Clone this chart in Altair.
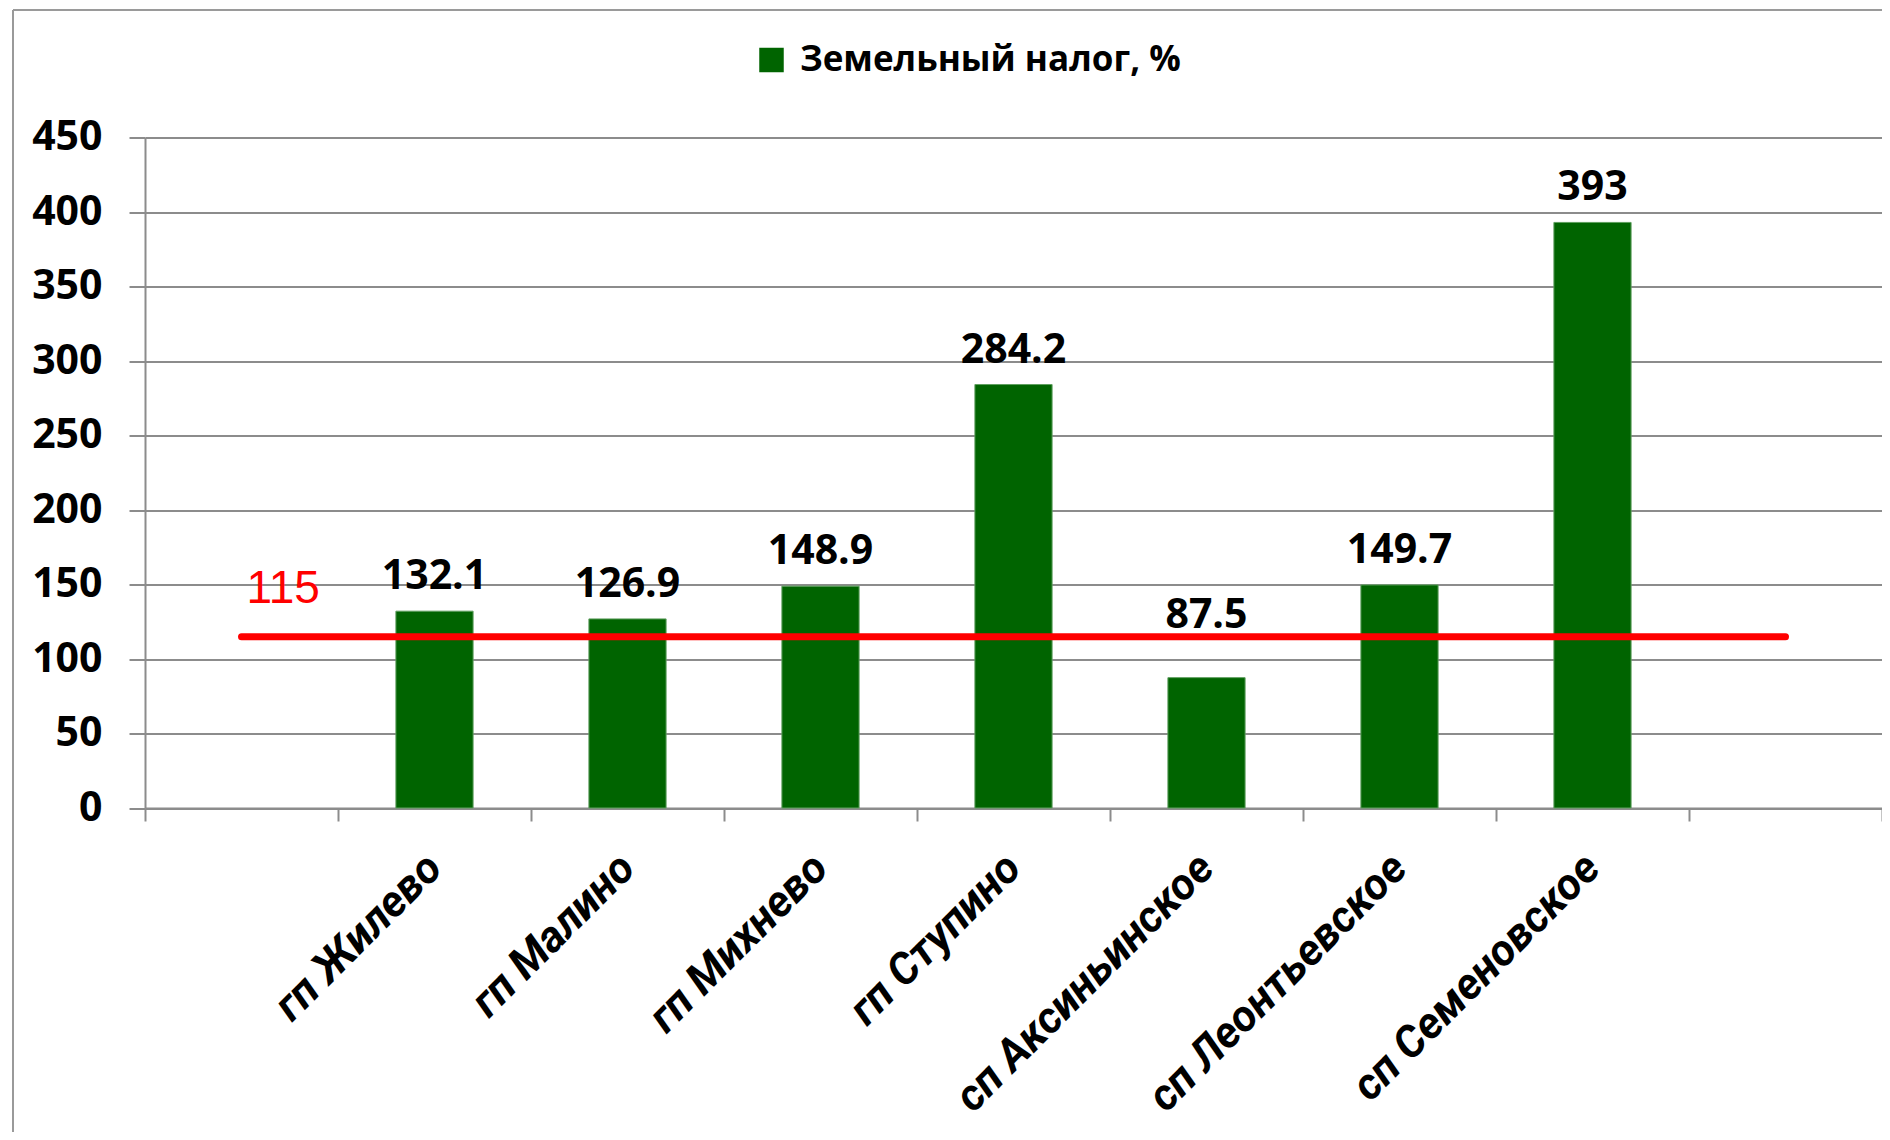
import altair as alt
import pandas as pd

# ---- data ----
axis_categories = ["", "гп Жилево", "гп Малино", "гп Михнево", "гп Ступино",
                   "сп Аксиньинское", "сп Леонтьевское", "сп Семеновское", " "]
bar_categories = ["гп Жилево", "гп Малино", "гп Михнево", "гп Ступино",
                  "сп Аксиньинское", "сп Леонтьевское", "сп Семеновское"]
bar_values = [132.1, 126.9, 148.9, 284.2, 87.5, 149.7, 393]
series_name = "Земельный налог, %"
line_values = [115, 115, 115, 115, 115, 115, 115, 115, 115]
line_label = "115"

bars_df = pd.DataFrame({"cat": bar_categories, "value": bar_values, "series": series_name})
line_df = pd.DataFrame({"cat": axis_categories, "value": line_values})
line_label_df = pd.DataFrame({"cat": [axis_categories[0]], "value": [line_values[0]], "label": [line_label]})

FONT = "Open Sans"
CAT_FONT = "Roboto"
GRID = "#8c8c8c"

x_enc = alt.X("cat:N", sort=axis_categories,
              scale=alt.Scale(domain=axis_categories, paddingInner=0, paddingOuter=0),
              axis=alt.Axis(title=None, labelAngle=-45, labelAlign="right", labelBaseline="middle",
                            labelFont=CAT_FONT, labelFontSize=44, labelFontWeight="bold",
                            labelFontStyle="italic", labelColor="black", labelPadding=40,
                            labelLimit=0,
                            tickBand="extent", tickSize=13, tickWidth=2, tickColor=GRID,
                            domainColor=GRID, domainWidth=2, grid=False, labelOverlap=False))
y_scale = alt.Scale(domain=[0, 450], nice=False)
y_axis = alt.Axis(title=None, values=list(range(0, 451, 50)), labelFont=FONT, labelFontSize=41,
                  labelFontWeight="bold", labelColor="black", labelPadding=27,
                  tickSize=16, tickWidth=2, tickColor=GRID, domainColor=GRID, domainWidth=2,
                  grid=True, gridColor=GRID, gridWidth=2)

bars = alt.Chart(bars_df).mark_bar(stroke="#5f9f5f", strokeWidth=1,
                                   width=alt.RelativeBandSize(0.4)).encode(
    x=x_enc,
    y=alt.Y("value:Q", scale=y_scale, axis=y_axis),
    color=alt.Color("series:N", scale=alt.Scale(range=["#006400"]),
                    legend=alt.Legend(title=None, orient="none", legendX=609, legendY=-95,
                                      symbolType="square", symbolSize=600, symbolStrokeWidth=0,
                                      labelFont=FONT, labelFontSize=35, labelFontWeight="bold",
                                      labelColor="black", labelOffset=11, padding=0,
                                      labelLimit=0)),
)

labels_hi = alt.Chart(bars_df).transform_filter(alt.datum.value >= line_values[0]).mark_text(
    font=FONT, fontSize=41, fontWeight="bold", color="black", baseline="alphabetic", dy=-22
).encode(x=alt.X("cat:N", sort=axis_categories), y="value:Q", text=alt.Text("value:Q"))

labels_lo = alt.Chart(bars_df).transform_filter(alt.datum.value < line_values[0]).mark_text(
    font=FONT, fontSize=41, fontWeight="bold", color="black", baseline="alphabetic", dy=-50
).encode(x=alt.X("cat:N", sort=axis_categories), y="value:Q", text=alt.Text("value:Q"))

line = alt.Chart(line_df).mark_line(color="#ff0000", strokeWidth=7, strokeCap="round").encode(
    x=alt.X("cat:N", sort=axis_categories), y="value:Q")

line_text = alt.Chart(line_label_df).mark_text(
    font="Liberation Sans", fontSize=46, color="#ff0000", align="left", baseline="alphabetic",
    dx=5, dy=-34
).encode(x=alt.X("cat:N", sort=axis_categories), y="value:Q", text="label:N")

frame_top = alt.Chart(line_label_df).mark_rule(color="#9a9a9a", strokeWidth=2).encode(
    x=alt.value(-132), x2=alt.value(1760), y=alt.value(-127.5))
frame_left = alt.Chart(line_label_df).mark_rule(color="#9a9a9a", strokeWidth=2).encode(
    x=alt.value(-132), y=alt.value(-127.5), y2=alt.value(1010))

chart = alt.layer(bars, line, labels_hi, labels_lo, line_text, frame_top, frame_left).properties(
    width=1737, height=670.5,
    autosize=alt.AutoSizeParams(type="none"),
    padding={"left": 137, "top": 129.5, "right": 0, "bottom": 324},
).configure_view(stroke=None).configure(background="white")

chart.save("out.html", embed_options={"renderer": "svg", "actions": False})
